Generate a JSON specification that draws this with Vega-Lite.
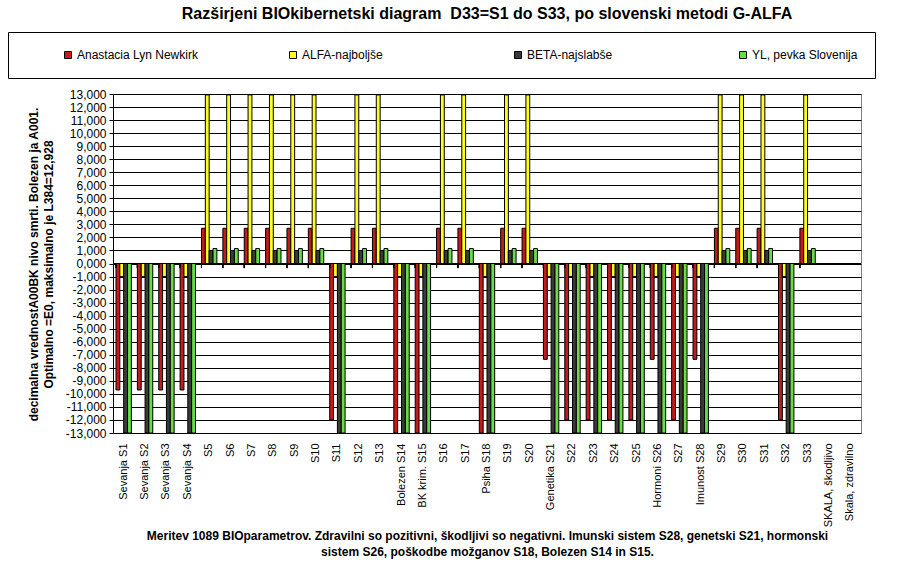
{
  "$schema": "https://vega.github.io/schema/vega-lite/v6.json",
  "autosize": {"type": "none"},
  "padding": {"left": 113, "top": 94, "right": 59, "bottom": 133},
  "width": 748,
  "height": 339,
  "background": "white",
  "title": {
    "text": "Razširjeni BIOkibernetski diagram \u00a0D33=S1 do S33, po slovenski metodi G-ALFA",
    "font": "Liberation Sans",
    "fontSize": 16,
    "fontWeight": "bold",
    "color": "black",
    "anchor": "middle",
    "frame": "group",
    "baseline": "bottom",
    "offset": 11,
    "dy": 17
  },
  "config": {
    "view": {"stroke": "#808080", "strokeWidth": 1},
    "font": "Liberation Sans"
  },
  "data": {
    "values": [
      {"c": "Sevanja S1", "s": "Anastacia Lyn Newkirk", "v": -9.7},
      {"c": "Sevanja S1", "s": "ALFA-najboljše", "v": -1},
      {"c": "Sevanja S1", "s": "BETA-najslabše", "v": -13},
      {"c": "Sevanja S1", "s": "YL, pevka Slovenija", "v": -13},
      {"c": "Sevanja S2", "s": "Anastacia Lyn Newkirk", "v": -9.7},
      {"c": "Sevanja S2", "s": "ALFA-najboljše", "v": -1},
      {"c": "Sevanja S2", "s": "BETA-najslabše", "v": -13},
      {"c": "Sevanja S2", "s": "YL, pevka Slovenija", "v": -13},
      {"c": "Sevanja S3", "s": "Anastacia Lyn Newkirk", "v": -9.7},
      {"c": "Sevanja S3", "s": "ALFA-najboljše", "v": -1},
      {"c": "Sevanja S3", "s": "BETA-najslabše", "v": -13},
      {"c": "Sevanja S3", "s": "YL, pevka Slovenija", "v": -13},
      {"c": "Sevanja S4", "s": "Anastacia Lyn Newkirk", "v": -9.7},
      {"c": "Sevanja S4", "s": "ALFA-najboljše", "v": -1},
      {"c": "Sevanja S4", "s": "BETA-najslabše", "v": -13},
      {"c": "Sevanja S4", "s": "YL, pevka Slovenija", "v": -13},
      {"c": "S5", "s": "Anastacia Lyn Newkirk", "v": 2.7},
      {"c": "S5", "s": "ALFA-najboljše", "v": 12.928},
      {"c": "S5", "s": "BETA-najslabše", "v": 1.0},
      {"c": "S5", "s": "YL, pevka Slovenija", "v": 1.15},
      {"c": "S6", "s": "Anastacia Lyn Newkirk", "v": 2.7},
      {"c": "S6", "s": "ALFA-najboljše", "v": 12.928},
      {"c": "S6", "s": "BETA-najslabše", "v": 1.0},
      {"c": "S6", "s": "YL, pevka Slovenija", "v": 1.15},
      {"c": "S7", "s": "Anastacia Lyn Newkirk", "v": 2.7},
      {"c": "S7", "s": "ALFA-najboljše", "v": 12.928},
      {"c": "S7", "s": "BETA-najslabše", "v": 1.0},
      {"c": "S7", "s": "YL, pevka Slovenija", "v": 1.15},
      {"c": "S8", "s": "Anastacia Lyn Newkirk", "v": 2.7},
      {"c": "S8", "s": "ALFA-najboljše", "v": 12.928},
      {"c": "S8", "s": "BETA-najslabše", "v": 1.0},
      {"c": "S8", "s": "YL, pevka Slovenija", "v": 1.15},
      {"c": "S9", "s": "Anastacia Lyn Newkirk", "v": 2.7},
      {"c": "S9", "s": "ALFA-najboljše", "v": 12.928},
      {"c": "S9", "s": "BETA-najslabše", "v": 1.0},
      {"c": "S9", "s": "YL, pevka Slovenija", "v": 1.15},
      {"c": "S10", "s": "Anastacia Lyn Newkirk", "v": 2.7},
      {"c": "S10", "s": "ALFA-najboljše", "v": 12.928},
      {"c": "S10", "s": "BETA-najslabše", "v": 1.0},
      {"c": "S10", "s": "YL, pevka Slovenija", "v": 1.15},
      {"c": "S11", "s": "Anastacia Lyn Newkirk", "v": -12},
      {"c": "S11", "s": "ALFA-najboljše", "v": -1},
      {"c": "S11", "s": "BETA-najslabše", "v": -13},
      {"c": "S11", "s": "YL, pevka Slovenija", "v": -13},
      {"c": "S12", "s": "Anastacia Lyn Newkirk", "v": 2.7},
      {"c": "S12", "s": "ALFA-najboljše", "v": 12.928},
      {"c": "S12", "s": "BETA-najslabše", "v": 1.0},
      {"c": "S12", "s": "YL, pevka Slovenija", "v": 1.15},
      {"c": "S13", "s": "Anastacia Lyn Newkirk", "v": 2.7},
      {"c": "S13", "s": "ALFA-najboljše", "v": 12.928},
      {"c": "S13", "s": "BETA-najslabše", "v": 1.0},
      {"c": "S13", "s": "YL, pevka Slovenija", "v": 1.15},
      {"c": "Bolezen S14", "s": "Anastacia Lyn Newkirk", "v": -13},
      {"c": "Bolezen S14", "s": "ALFA-najboljše", "v": -1},
      {"c": "Bolezen S14", "s": "BETA-najslabše", "v": -13},
      {"c": "Bolezen S14", "s": "YL, pevka Slovenija", "v": -13},
      {"c": "BK krim. S15", "s": "Anastacia Lyn Newkirk", "v": -13},
      {"c": "BK krim. S15", "s": "ALFA-najboljše", "v": -1},
      {"c": "BK krim. S15", "s": "BETA-najslabše", "v": -13},
      {"c": "BK krim. S15", "s": "YL, pevka Slovenija", "v": -13},
      {"c": "S16", "s": "Anastacia Lyn Newkirk", "v": 2.7},
      {"c": "S16", "s": "ALFA-najboljše", "v": 12.928},
      {"c": "S16", "s": "BETA-najslabše", "v": 1.0},
      {"c": "S16", "s": "YL, pevka Slovenija", "v": 1.15},
      {"c": "S17", "s": "Anastacia Lyn Newkirk", "v": 2.7},
      {"c": "S17", "s": "ALFA-najboljše", "v": 12.928},
      {"c": "S17", "s": "BETA-najslabše", "v": 1.0},
      {"c": "S17", "s": "YL, pevka Slovenija", "v": 1.15},
      {"c": "Psiha S18", "s": "Anastacia Lyn Newkirk", "v": -13},
      {"c": "Psiha S18", "s": "ALFA-najboljše", "v": -1},
      {"c": "Psiha S18", "s": "BETA-najslabše", "v": -13},
      {"c": "Psiha S18", "s": "YL, pevka Slovenija", "v": -13},
      {"c": "S19", "s": "Anastacia Lyn Newkirk", "v": 2.7},
      {"c": "S19", "s": "ALFA-najboljše", "v": 12.928},
      {"c": "S19", "s": "BETA-najslabše", "v": 1.0},
      {"c": "S19", "s": "YL, pevka Slovenija", "v": 1.15},
      {"c": "S20", "s": "Anastacia Lyn Newkirk", "v": 2.7},
      {"c": "S20", "s": "ALFA-najboljše", "v": 12.928},
      {"c": "S20", "s": "BETA-najslabše", "v": 1.0},
      {"c": "S20", "s": "YL, pevka Slovenija", "v": 1.15},
      {"c": "Genetika S21", "s": "Anastacia Lyn Newkirk", "v": -7.35},
      {"c": "Genetika S21", "s": "ALFA-najboljše", "v": -1},
      {"c": "Genetika S21", "s": "BETA-najslabše", "v": -13},
      {"c": "Genetika S21", "s": "YL, pevka Slovenija", "v": -13},
      {"c": "S22", "s": "Anastacia Lyn Newkirk", "v": -12},
      {"c": "S22", "s": "ALFA-najboljše", "v": -1},
      {"c": "S22", "s": "BETA-najslabše", "v": -13},
      {"c": "S22", "s": "YL, pevka Slovenija", "v": -13},
      {"c": "S23", "s": "Anastacia Lyn Newkirk", "v": -12},
      {"c": "S23", "s": "ALFA-najboljše", "v": -1},
      {"c": "S23", "s": "BETA-najslabše", "v": -13},
      {"c": "S23", "s": "YL, pevka Slovenija", "v": -13},
      {"c": "S24", "s": "Anastacia Lyn Newkirk", "v": -12},
      {"c": "S24", "s": "ALFA-najboljše", "v": -1},
      {"c": "S24", "s": "BETA-najslabše", "v": -13},
      {"c": "S24", "s": "YL, pevka Slovenija", "v": -13},
      {"c": "S25", "s": "Anastacia Lyn Newkirk", "v": -12},
      {"c": "S25", "s": "ALFA-najboljše", "v": -1},
      {"c": "S25", "s": "BETA-najslabše", "v": -13},
      {"c": "S25", "s": "YL, pevka Slovenija", "v": -13},
      {"c": "Hormoni S26", "s": "Anastacia Lyn Newkirk", "v": -7.35},
      {"c": "Hormoni S26", "s": "ALFA-najboljše", "v": -1},
      {"c": "Hormoni S26", "s": "BETA-najslabše", "v": -13},
      {"c": "Hormoni S26", "s": "YL, pevka Slovenija", "v": -13},
      {"c": "S27", "s": "Anastacia Lyn Newkirk", "v": -12},
      {"c": "S27", "s": "ALFA-najboljše", "v": -1},
      {"c": "S27", "s": "BETA-najslabše", "v": -13},
      {"c": "S27", "s": "YL, pevka Slovenija", "v": -13},
      {"c": "Imunost S28", "s": "Anastacia Lyn Newkirk", "v": -7.35},
      {"c": "Imunost S28", "s": "ALFA-najboljše", "v": -1},
      {"c": "Imunost S28", "s": "BETA-najslabše", "v": -13},
      {"c": "Imunost S28", "s": "YL, pevka Slovenija", "v": -13},
      {"c": "S29", "s": "Anastacia Lyn Newkirk", "v": 2.7},
      {"c": "S29", "s": "ALFA-najboljše", "v": 12.928},
      {"c": "S29", "s": "BETA-najslabše", "v": 1.0},
      {"c": "S29", "s": "YL, pevka Slovenija", "v": 1.15},
      {"c": "S30", "s": "Anastacia Lyn Newkirk", "v": 2.7},
      {"c": "S30", "s": "ALFA-najboljše", "v": 12.928},
      {"c": "S30", "s": "BETA-najslabše", "v": 1.0},
      {"c": "S30", "s": "YL, pevka Slovenija", "v": 1.15},
      {"c": "S31", "s": "Anastacia Lyn Newkirk", "v": 2.7},
      {"c": "S31", "s": "ALFA-najboljše", "v": 12.928},
      {"c": "S31", "s": "BETA-najslabše", "v": 1.0},
      {"c": "S31", "s": "YL, pevka Slovenija", "v": 1.15},
      {"c": "S32", "s": "Anastacia Lyn Newkirk", "v": -12},
      {"c": "S32", "s": "ALFA-najboljše", "v": -1},
      {"c": "S32", "s": "BETA-najslabše", "v": -13},
      {"c": "S32", "s": "YL, pevka Slovenija", "v": -13},
      {"c": "S33", "s": "Anastacia Lyn Newkirk", "v": 2.7},
      {"c": "S33", "s": "ALFA-najboljše", "v": 12.928},
      {"c": "S33", "s": "BETA-najslabše", "v": 1.0},
      {"c": "S33", "s": "YL, pevka Slovenija", "v": 1.15}
    ]
  },
  "layer": [
    {
      "mark": {"type": "bar", "stroke": "black", "strokeWidth": 1},
      "encoding": {
        "x": {
          "field": "c",
          "type": "nominal",
          "sort": null,
          "scale": {
            "domain": ["Sevanja S1","Sevanja S2","Sevanja S3","Sevanja S4","S5","S6","S7","S8","S9","S10","S11","S12","S13","Bolezen S14","BK krim. S15","S16","S17","Psiha S18","S19","S20","Genetika S21","S22","S23","S24","S25","Hormoni S26","S27","Imunost S28","S29","S30","S31","S32","S33","SKALA, škodljivo","Skala, zdravilno"],
            "paddingInner": 0.28,
            "paddingOuter": 0.14
          },
          "axis": {
            "labelAngle": -90,
            "labelFontSize": 11,
            "labelColor": "black",
            "labelPadding": 10,
            "labelOverlap": false,
            "ticks": false,
            "domain": false,
            "labelLimit": 200,
            "title": ["Meritev 1089 BIOparametrov. Zdravilni so pozitivni, škodljivi so negativni. Imunski sistem S28, genetski S21, hormonski", "sistem S26, poškodbe možganov S18, Bolezen S14 in S15."],
            "titleFontSize": 12,
            "titleFontWeight": "bold",
            "titleColor": "black",
            "titleLineHeight": 16,
            "titleBaseline": "top",
            "titleY": 97
          }
        },
        "xOffset": {
          "field": "s",
          "type": "nominal",
          "scale": {"domain": ["Anastacia Lyn Newkirk", "ALFA-najboljše", "BETA-najslabše", "YL, pevka Slovenija"]}
        },
        "y": {
          "field": "v",
          "type": "quantitative",
          "scale": {"domain": [-13, 13], "nice": false},
          "axis": {
            "values": [-13,-12,-11,-10,-9,-8,-7,-6,-5,-4,-3,-2,-1,0,1,2,3,4,5,6,7,8,9,10,11,12,13],
            "tickCount": 27,
            "labelExpr": "replace((datum.value < 0 ? '-' : '') + format(abs(datum.value), '.3f'), '.', ',')",
            "labelOverlap": false,
            "labelFlush": false,
            "labelFontSize": 12,
            "labelColor": "black",
            "labelPadding": 3,
            "tickColor": "black",
            "tickSize": 4,
            "domainColor": "black",
            "gridColor": "black",
            "gridOpacity": 1,
            "title": ["decimalna vrednostA00BK nivo smrti. Bolezen ja A001.", "Optimalno =E0, maksimalno je L384=12,928"],
            "titleFontSize": 12,
            "titleFontWeight": "bold",
            "titleColor": "black",
            "titleLineHeight": 15,
            "titleBaseline": "middle",
            "titleX": -80,
            "titleY": 170
          }
        },
        "color": {
          "field": "s",
          "type": "nominal",
          "scale": {
            "domain": ["Anastacia Lyn Newkirk", "ALFA-najboljše", "BETA-najslabše", "YL, pevka Slovenija"],
            "range": ["#C41A1A", "#FFFF22", "#3A3A3A", "#66DD44"]
          },
          "legend": {
            "title": null,
            "orient": "none",
            "direction": "horizontal",
            "columns": 4,
            "gridAlign": "all",
            "legendX": -105,
            "legendY": -62,
            "padding": 17,
            "symbolType": "square",
            "symbolSize": 49,
            "symbolStrokeColor": "black",
            "symbolStrokeWidth": 1,
            "symbolOffset": 37,
            "labelOffset": 3,
            "labelFontSize": 12,
            "labelColor": "black",
            "labelLimit": 300,
            "columnPadding": 52,
            "strokeColor": "black",
            "fillColor": "white",
            "cornerRadius": 0
          }
        }
      }
    },
    {
      "mark": {"type": "rule", "color": "black", "strokeWidth": 1},
      "encoding": {"y": {"datum": 0, "type": "quantitative"}}
    },
    {
      "mark": {"type": "rule", "color": "black", "strokeWidth": 1},
      "encoding": {
        "x": {"field": "c", "type": "nominal", "sort": null, "bandPosition": 0},
        "y": {"datum": 0, "type": "quantitative"},
        "y2": {"datum": -0.35}
      }
    }
  ]
}
